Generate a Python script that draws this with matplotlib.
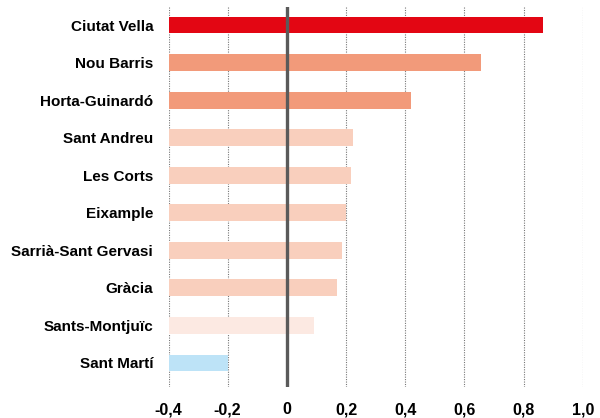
import numpy as np
import matplotlib.pyplot as plt

districtes = ['Ciutat Vella', 'Nou Barris', 'Horta-Guinardó', 'Sant Andreu', 'Les Corts',
              'Eixample', 'Sarrià-Sant Gervasi', 'Gràcia', 'Sants-Montjuïc', 'Sant Martí']
valors = [0.865, 0.656, 0.418, 0.222, 0.218, 0.200, 0.185, 0.170, 0.093, -0.200]
colors = ['#e30613', '#f29a7a', '#f29a7a', '#f9cfbd', '#f9cfbd',
          '#f9cfbd', '#f9cfbd', '#f9cfbd', '#fce9e2', '#bde3f7']
ticks = [-0.4, -0.2, 0, 0.2, 0.4, 0.6, 0.8, 1.0]
tick_labels = ['-0,4', '-0,2', '0', '0,2', '0,4', '0,6', '0,8', '1,0']

plt.rcParams['font.family'] = ['Liberation Sans', 'DejaVu Sans']

fig = plt.figure(figsize=(6, 4.18), dpi=100)
ax = fig.add_axes([168.5 / 600, 1 - 387 / 418, (582.7 - 168.5) / 600, 380 / 418])

# les barres comencen a l'esquerra de l'eix (-0,4)
base = ticks[0]
y = np.arange(len(districtes))
ax.barh(y, np.array(valors) - base, left=base, height=0.45, color=colors, zorder=2)

for t in ticks:
    if t != 0:
        ax.axvline(t, color='#777777', lw=0.8, ls=(0, (1, 1.2)), zorder=1)
ax.axvline(0, color='#5a5a5a', lw=2.4, zorder=3)

ax.set_xlim(-0.4, 1.0)
ax.set_ylim(9.64, -0.48)
ax.set_xticks(ticks)
ax.set_xticklabels(tick_labels, fontsize=11.5, fontweight='bold')
ax.set_yticks(y)
ax.set_yticklabels(districtes, fontsize=11, fontweight='bold')
ax.tick_params(length=0)
ax.tick_params(axis='y', pad=11)
ax.tick_params(axis='x', pad=11)
for s in ax.spines.values():
    s.set_visible(False)

fig.savefig('out.png', dpi=100)
